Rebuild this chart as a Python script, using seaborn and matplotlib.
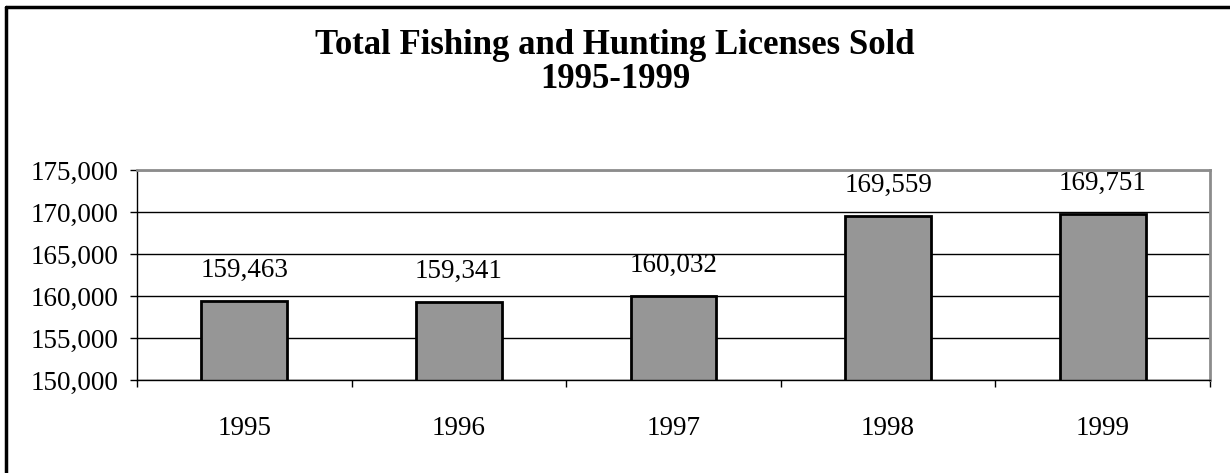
import pandas as pd
import seaborn as sns
import matplotlib.pyplot as plt
from matplotlib.ticker import FuncFormatter, FixedLocator

# data
years = ["1995", "1996", "1997", "1998", "1999"]
licenses = [159463, 159341, 160032, 169559, 169751]
y_ticks = [150000, 155000, 160000, 165000, 170000, 175000]

df = pd.DataFrame({"Year": years, "Licenses": licenses})

sns.set_style("white")
plt.rcParams["font.family"] = ["Liberation Serif", "DejaVu Serif"]
plt.rcParams["text.color"] = "black"
plt.rcParams["xtick.color"] = "black"
plt.rcParams["ytick.color"] = "black"

fig = plt.figure(figsize=(12.3, 4.73), dpi=100)
ax = fig.add_axes([137 / 1230, 93 / 473, 1073 / 1230, 210 / 473])

sns.barplot(data=df, x="Year", y="Licenses", color="#969696", width=0.4,
            edgecolor="black", linewidth=2, saturation=1, ax=ax)

ax.set_ylim(y_ticks[0], y_ticks[-1])
ax.set_xlim(-0.5, len(years) - 0.5)
ax.set_yticks(y_ticks)
ax.yaxis.set_major_formatter(FuncFormatter(lambda v, p: "{:,.0f}".format(v)))
ax.set_axisbelow(True)
ax.yaxis.grid(True, color="black", linewidth=1)

# tick marks between the categories, like excel
ax.xaxis.set_minor_locator(FixedLocator([i - 0.5 for i in range(len(years) + 1)]))
ax.tick_params(axis="x", which="major", length=0, pad=26, labelsize=19.5, labelcolor="black")
ax.tick_params(axis="x", which="minor", length=5, width=1, color="black", direction="out", bottom=True)
ax.tick_params(axis="y", length=5, width=1, color="black", direction="out", left=True, pad=8.5,
               labelsize=19.5, labelcolor="black")
ax.set_xlabel("")
ax.set_ylabel("")

for side in ["left", "bottom"]:
    ax.spines[side].set_color("black")
    ax.spines[side].set_linewidth(1)
for side in ["top", "right"]:
    ax.spines[side].set_visible(True)
    ax.spines[side].set_color("#8c8c8c")
    ax.spines[side].set_linewidth(2)

for i, v in enumerate(licenses):
    ax.annotate("{:,}".format(v), (i, v), xytext=(0, 13), textcoords="offset points",
                ha="center", va="bottom", fontsize=19.5, color="black", annotation_clip=False)

fig.text(0.5, 1 - 46 / 473, "Total Fishing and Hunting Licenses Sold",
         ha="center", va="center", fontsize=25, fontweight="bold", color="black")
fig.text(0.5, 1 - 80 / 473, "1995-1999",
         ha="center", va="center", fontsize=25, fontweight="bold", color="black")

# outer chart border (only left and top show in the picture)
fig.add_artist(plt.Line2D([6 / 1230, 6 / 1230], [0, 1 - 7 / 473], color="black", linewidth=2.5))
fig.add_artist(plt.Line2D([6 / 1230, 1], [1 - 7 / 473, 1 - 7 / 473], color="black", linewidth=2.5))

fig.savefig("out.png", dpi=100)
